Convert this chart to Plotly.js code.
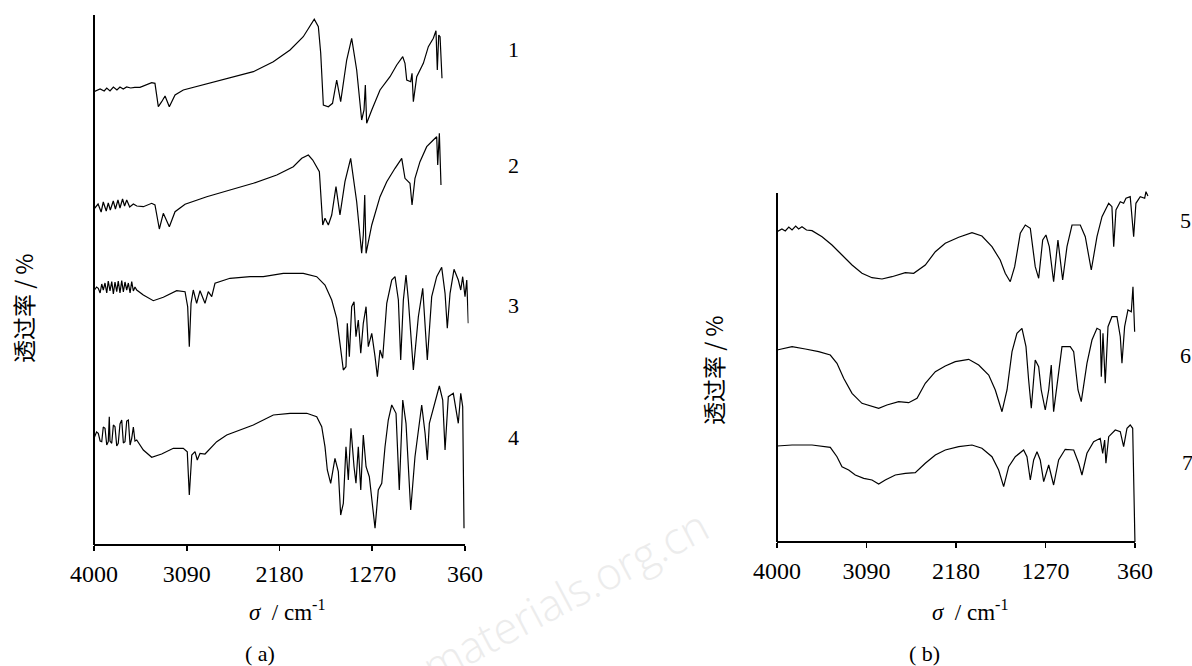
<!DOCTYPE html>
<html>
<head>
<meta charset="utf-8">
<script src="https://cdn.plot.ly/plotly-3.0.1.min.js"></script>
<style>html,body{margin:0;padding:0;background:#fff;}#chart{width:1192px;height:666px;}</style>
</head>
<body>
<div id="chart"></div>
<script>
// wavenumber ticks (cm^-1)
const tickValues = [4000, 3090, 2180, 1270, 360];
const tickLabels = ["4000", "3090", "2180", "1270", "360"];
const seriesNamesA = ["1", "2", "3", "4"];
const seriesNamesB = ["5", "6", "7"];

// Panel (a) spectra: wavenumber / relative transmittance (offset, arbitrary units)
const wn1 = [4000,3940,3900,3875,3843,3810,3775,3745,3713,3680,3640,3600,3549,3434,3402,3369,3336,3303,3261,3205,3124,2894,2666,2437,2241,2077,1947,1864,1839,1799,1776,1750,1701,1660,1619,1580,1521,1472,1423,1374,1351,1338,1325,1275,1194,1096,1030,971,949,932,893,880,867,834,769,720,671,645,632,618,605,586];
const t1  = [453.3,456,454,457,454,458,455,458,456,458,457,457.7,457.7,462.3,461.7,438.3,443.3,449,438.3,450,455,461,466.7,473.3,483.3,495,508.3,521.7,525.7,518.3,492,440,438.3,441.7,465,443.3,485,506.7,475,425,435,460,421.7,435,455,468.3,480,488.3,481.7,465,463.3,471.7,443.3,468.3,481.7,498.3,506.7,514.3,475,510,508.3,466.7];

const wn2 = [4000,3960,3930,3909,3880,3860,3840,3811,3790,3765,3745,3720,3700,3679,3650,3614,3580,3516,3434,3402,3359,3320,3261,3205,3107,2894,2666,2437,2207,2045,1962,1897,1854,1815,1789,1756,1734,1701,1668,1626,1587,1538,1482,1423,1374,1358,1344,1331,1275,1194,1128,1047,981,949,900,880,851,802,736,671,638,628,612,596];
const t2  = [336,341,333,343,334,342,335,344,336,345,337,346,339,345,338,341,339,338.3,341.7,340,316,331.7,318.3,333.3,340.7,348.3,355,361.7,370,378.3,386.7,390,385,378.3,373.3,320,326.7,320,330,358.3,330,363.3,386.7,343.3,291.7,310,350,291.7,320,348.3,363.3,376.7,386.7,366.7,361.7,340,366.7,383.3,398.3,405,408.3,380,411.7,360];

const wn3 = [4000,3975,3958,3940,3924,3909,3892,3875,3860,3843,3826,3810,3794,3777,3762,3745,3728,3712,3696,3679,3663,3646,3630,3614,3598,3581,3516,3418,3320,3189,3107,3081,3065,3048,3026,2993,2960,2911,2879,2845,2813,2666,2469,2339,2143,1947,1815,1734,1668,1619,1587,1554,1528,1515,1495,1472,1449,1430,1407,1383,1358,1331,1309,1275,1243,1220,1194,1168,1128,1079,1047,1014,991,965,939,916,867,818,775,752,730,687,638,589,556,534,507,468,426,402,383,360,343,328];
const t3  = [254.3,258,256.7,252,261,255,262,252,264,254,263.3,251,263,253.3,264,252,264.3,253,263,255,262,252,263.3,254,258,255,250,244.3,247.7,254.3,253.3,238.3,198.3,241.7,255,241.7,254.3,241.7,253.3,248.3,261.7,266.7,268.3,268.3,271.7,271.7,268.3,260,245,226.7,201.7,175,178.3,221.7,188.3,238.3,243.3,208.3,225,191.7,221.7,238.3,198.3,211.7,188.3,168.3,195,186.7,241.7,265,268.3,245,185,245,270,245,175,228.3,256.7,218.3,185,248.3,268.3,277.7,251.7,216.7,251.7,275.7,265,255,268.3,248.3,265,221.7];

const wn4 = [4000,3975,3958,3940,3924,3909,3892,3875,3860,3850,3843,3826,3810,3794,3777,3762,3745,3728,3712,3696,3679,3663,3646,3630,3614,3598,3581,3516,3434,3336,3222,3124,3085,3065,3041,3009,2987,2960,2911,2862,2796,2698,2568,2437,2339,2241,2077,1913,1815,1766,1734,1711,1678,1636,1603,1580,1554,1528,1505,1479,1449,1430,1407,1383,1358,1331,1299,1275,1243,1211,1177,1145,1113,1079,1037,1005,971,939,893,851,818,785,752,730,710,671,612,579,556,524,475,426,402,383,370];
const t4  = [106.7,113,111.7,104,103.3,118,116.7,100,103.3,128.3,104,101.7,120,118.3,99,101.7,121,125,102,103.3,124,125,100,106.7,118,104,105,95,87.7,91,96.7,96.7,93.3,50,90,93.3,85,91.7,91,96.7,103.3,110,115,120,125,130,131.7,131.7,128.3,118.3,98.3,75,61.7,86.7,73.3,30,41.7,98.3,65,116.7,78.3,61.7,98.3,55,110,78.3,68.3,48.3,16.7,55,61.7,98.3,125,140,131.7,55,145,121.7,35,88.3,115,140,111.7,85,121.7,136.7,159,145,95,148.3,151.7,121.7,151.7,138.3,16.7];

// Panel (b) spectra
const wn5 = [4000,3950,3916,3880,3847,3810,3780,3746,3700,3644,3542,3441,3339,3237,3136,3034,2932,2831,2695,2610,2492,2390,2289,2152,2017,1916,1814,1730,1679,1628,1583,1526,1475,1424,1374,1339,1298,1265,1231,1187,1143,1095,1051,1000,916,865,804,746,695,627,594,576,553,509,475,451,408,373,350,306,261,248,228];
const t5  = [310.3,313,311,315,312,316,313,315.3,312,311.3,305.3,297,287,277,268.7,264.3,263,265.3,269.3,268.7,277,290.3,298.7,304.7,309.3,306,295.3,282,268.7,260.3,275.3,308.7,317,313.7,275.3,263.7,302,307,295.3,260.3,302,262,295.3,317,317,305.3,272,305.3,325.3,338.7,335.3,295.3,332,340.3,338.7,343.7,345.3,305.3,338.7,345.3,343.7,350.3,346];

const wn6 = [4000,3916,3847,3712,3576,3458,3390,3322,3237,3136,3034,2966,2882,2763,2661,2576,2492,2390,2289,2187,2051,1949,1847,1780,1712,1661,1610,1560,1509,1468,1441,1414,1374,1339,1313,1272,1237,1211,1187,1143,1102,1018,983,939,906,848,797,746,713,702,685,662,634,594,543,509,492,465,431,397,380,363];
const t6  = [192,193.7,195.3,193,190.3,187,178.7,163.7,148.7,138.7,135.3,133.7,137,140.3,139.3,143.7,158.7,170.3,176,180.3,182.7,177,167,152,130.3,152,190.3,208.7,213.7,195.3,162,133.7,182,175.3,152,132,152,177,130.3,162,195.3,195.3,190.3,152,140.3,178.7,202,213.7,212,165.3,208.7,158.7,215.3,225.3,225.3,205.3,178.7,215.3,232,230.3,255.3,210.3];

const wn7 = [4000,3847,3644,3458,3390,3339,3271,3204,3118,3034,2966,2899,2797,2695,2594,2492,2390,2289,2152,2017,1916,1814,1746,1695,1644,1577,1492,1458,1424,1390,1356,1323,1288,1237,1187,1136,1069,983,932,899,848,780,713,688,668,655,627,560,509,475,441,408,383,367,360];
const t7  = [96,97,97,94.7,85.3,75.3,72,67,63.7,62,58,62,67,68.7,69.3,78.7,87,92,95.3,97,93.7,85.3,72,55.3,75.3,85.3,92,85.3,62,82,90.3,82,60.3,77,57,82,92.7,92,78.7,67,88.7,100.3,103.7,88.7,102,78.7,105.3,112,110.3,95.3,113.7,117,113.7,54,0];

const W = 1192, H = 666;
const px = x => x / W;
const py = y => 1 - y / H;

const lineStyle = {color: '#000', width: 1.2};
function tr(x, y, name, xa, ya) {
  return {x: x, y: y, name: name, type: 'scatter', mode: 'lines', line: lineStyle,
          xaxis: xa, yaxis: ya, hoverinfo: 'skip', showlegend: false};
}
const data = [
  tr(wn1, t1, seriesNamesA[0], 'x', 'y'),
  tr(wn2, t2, seriesNamesA[1], 'x', 'y'),
  tr(wn3, t3, seriesNamesA[2], 'x', 'y'),
  tr(wn4, t4, seriesNamesA[3], 'x', 'y'),
  tr(wn5, t5, seriesNamesB[0], 'x2', 'y2'),
  tr(wn6, t6, seriesNamesB[1], 'x2', 'y2'),
  tr(wn7, t7, seriesNamesB[2], 'x2', 'y2')
];

const serif = '"Liberation Serif", "Times New Roman", serif';
const cjk = '"Noto Sans CJK SC", sans-serif';
const xCommon = {
  tickmode: 'array', tickvals: tickValues, ticktext: tickLabels,
  ticks: 'outside', ticklen: 5, tickwidth: 1.8, tickcolor: '#000',
  showline: false, showgrid: false, zeroline: false,
  tickfont: {family: serif, size: 24, color: '#000'}, ticklabelstandoff: 2,
  fixedrange: true
};
const yCommon = {showline: false, showgrid: false, zeroline: false, showticklabels: false, ticks: '', fixedrange: true};

const axA = {x0: px(94), yb: py(545)};
const axB = {x0: px(777), yb: py(542)};

const layout = {
  width: W, height: H, autosize: false,
  margin: {l: 0, r: 0, t: 0, b: 0},
  paper_bgcolor: '#fff', plot_bgcolor: 'rgba(0,0,0,0)',
  xaxis: Object.assign({}, xCommon, {domain: [px(94), px(468.6)], range: [4000, 325], anchor: 'y'}),
  yaxis: Object.assign({}, yCommon, {domain: [py(545), py(15)], range: [0, 530], anchor: 'x'}),
  xaxis2: Object.assign({}, xCommon, {domain: [px(777), px(1149.2)], range: [4000, 215], anchor: 'y2'}),
  yaxis2: Object.assign({}, yCommon, {domain: [py(542), py(188)], range: [0, 354], anchor: 'x2'}),
  shapes: [
    {type: 'line', xref: 'x', yref: 'paper', x0: 4000, x1: 360, y0: axA.yb, y1: axA.yb, line: {color: '#000', width: 2}},
    {type: 'line', xref: 'paper', yref: 'y', x0: axA.x0, x1: axA.x0, y0: 0, y1: 530, line: {color: '#000', width: 2}},
    {type: 'line', xref: 'x2', yref: 'paper', x0: 4000, x1: 360, y0: axB.yb, y1: axB.yb, line: {color: '#000', width: 2}},
    {type: 'line', xref: 'paper', yref: 'y2', x0: axB.x0, x1: axB.x0, y0: 0, y1: 349, line: {color: '#000', width: 2}}
  ],
  annotations: [
    {text: 'materials.org.cn', x: px(565), y: py(595), textangle: -28, font: {family: '"Open Sans", sans-serif', size: 44, color: '#ececec', weight: 300}},
    {text: seriesNamesA[0], x: px(513), y: py(50)},
    {text: seriesNamesA[1], x: px(513), y: py(165)},
    {text: seriesNamesA[2], x: px(513), y: py(305)},
    {text: seriesNamesA[3], x: px(513), y: py(437)},
    {text: seriesNamesB[0], x: px(1185), y: py(220)},
    {text: seriesNamesB[1], x: px(1185), y: py(355)},
    {text: seriesNamesB[2], x: px(1187), y: py(462)},
    {text: '透过率 / %', x: px(23), y: py(308), textangle: -90, font: {family: cjk, size: 23, color: '#000'}},
    {text: '透过率 / %', x: px(713), y: py(370), textangle: -90, font: {family: cjk, size: 23, color: '#000'}},
    {text: '<i>σ</i>  / cm<sup>-1</sup>', x: px(287), y: py(610), font: {family: serif, size: 23, color: '#000'}},
    {text: '<i>σ</i>  / cm<sup>-1</sup>', x: px(970), y: py(610), font: {family: serif, size: 23, color: '#000'}},
    {text: '( a)', x: px(260), y: py(653), font: {family: serif, size: 22, color: '#000'}},
    {text: '( b)', x: px(925), y: py(653), font: {family: serif, size: 22, color: '#000'}}
  ].map(a => Object.assign({xref: 'paper', yref: 'paper', showarrow: false, xanchor: 'center', yanchor: 'middle',
                            font: {family: serif, size: 22, color: '#000'}}, a))
};

Plotly.newPlot('chart', data, layout, {staticPlot: true, displayModeBar: false});
</script>
</body>
</html>
